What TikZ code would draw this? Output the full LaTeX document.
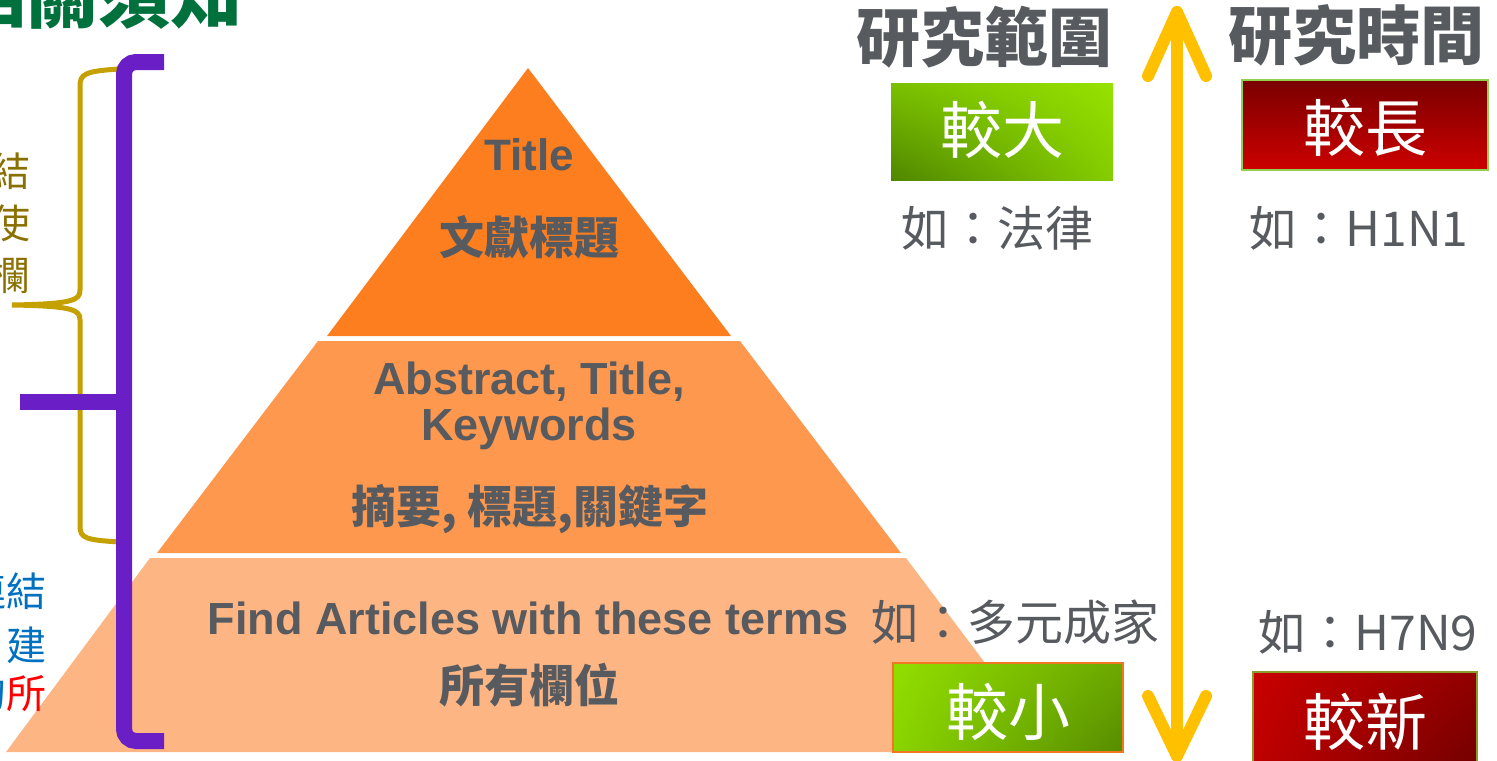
\documentclass[tikz,border=0pt]{standalone}
\usepackage{fontspec}
\setmainfont{Liberation Sans}
\newfontfamily\cjk{Noto Sans CJK TC}
\usetikzlibrary{shadings}
\definecolor{txtgray}{HTML}{575A5F}
\definecolor{lay1}{HTML}{FD7E1E}
\definecolor{lay2}{HTML}{FE984E}
\definecolor{lay3}{HTML}{FDB584}
\definecolor{pur}{HTML}{6A1EC6}
\definecolor{oliv}{HTML}{C4A000}
\definecolor{olivtxt}{HTML}{8A7000}
\definecolor{bluetxt}{HTML}{0070C0}
\definecolor{redtxt}{HTML}{FF0000}
\definecolor{ttlgreen}{HTML}{00703C}
\definecolor{yel}{HTML}{FFC000}
\definecolor{gA}{HTML}{4F8700}
\definecolor{gB}{HTML}{7BC000}
\definecolor{gC}{HTML}{85CC00}
\definecolor{gD}{HTML}{96E200}
\definecolor{gE}{HTML}{92DE00}
\definecolor{gF}{HTML}{8AD400}
\definecolor{gG}{HTML}{6CA800}
\definecolor{gH}{HTML}{568C00}
\definecolor{rA}{HTML}{7A0000}
\definecolor{rB}{HTML}{CC0000}
\definecolor{rC}{HTML}{C80000}
\definecolor{rD}{HTML}{BE0000}
\definecolor{rE}{HTML}{920000}
\definecolor{rF}{HTML}{720000}
\definecolor{bordgreen}{HTML}{92D050}
\definecolor{bordorange}{HTML}{F07820}
\definecolor{bordolive}{HTML}{8C9A2C}
\begin{document}
\begin{tikzpicture}[x=0.5pt,y=-0.5pt,
  lbl/.style={inner sep=0pt, anchor=base},
  enb/.style={lbl, font=\fontsize{22.5}{26}\selectfont\bfseries, text=txtgray},
  cjb/.style={lbl, font=\cjk\fontsize{22.5}{26}\selectfont\bfseries, text=txtgray},
  head/.style={lbl, font=\cjk\fontsize{32}{36}\selectfont\bfseries, text=txtgray},
  boxlbl/.style={lbl, font=\cjk\fontsize{31}{36}\selectfont, text=white},
  eg/.style={lbl, font=\cjk\fontsize{24}{28}\selectfont, text=txtgray},
  side/.style={inner sep=0pt, anchor=base east, font=\cjk\fontsize{20}{24}\selectfont},
  boxshape/.style={inner sep=0pt, line width=0.8pt},
  yarrow/.style={draw=yel, line width=6pt, line cap=round, line join=round},
  pbr/.style={draw=pur, line width=8pt, rounded corners=6pt},
  obr/.style={draw=oliv, line width=2.5pt}
]
\useasboundingbox (0,0) rectangle (1497,760);
\clip (0,0) rectangle (1497,760);

% pyramid layers
\fill[lay1] (528,68) -- (327,336) -- (731,336) -- cycle;
\fill[lay2] (318,341) -- (740,341) -- (901,553) -- (157,553) -- cycle;
\fill[lay3] (150,558) -- (906,558) -- (1052,752) -- (6,752) -- cycle;

% olive brace
\draw[obr] (120,69) .. controls (85,71) and (80,74) .. (80,86) -- (80,290)
  .. controls (80,300) and (74,304) .. (12,305)
  .. controls (74,306) and (80,310) .. (80,320) -- (80,526)
  .. controls (80,538) and (85,540) .. (120,542);

% purple bracket
\coordinate (p1) at (164,62);
\coordinate (p2) at (124,62);
\coordinate (p3) at (124,741);
\coordinate (p4) at (164,741);
\coordinate (p5) at (20,402);
\coordinate (p6) at (124,402);
\draw[pbr] (p1) -- (p2) -- (p3) -- (p4);
\draw[draw=pur, line width=8pt] (p5) -- (p6);

% pyramid texts
\node[enb, font=\fontsize{22}{26}\selectfont\bfseries] (t1) at (529,170) {Title};
\node[cjb] (t2) at (529,254) {文獻標題};
\node[enb] (m1) at (529,394) {Abstract, Title,};
\node[enb] (m2) at (529,440) {Keywords};
\node[cjb] (m3) at (530,523) {摘要, 標題,關鍵字};
\node[enb] (b1) at (528,634) {Find Articles with these terms};
\node[cjb] (b2) at (529,702) {所有欄位};

% top-left title fragment
\node[inner sep=0pt, anchor=base east, font=\cjk\fontsize{36}{40}\selectfont\bfseries, text=ttlgreen] (ttl) at (243,22) {相關須知};

% left side texts
\node[side, text=olivtxt] (s1) at (31,186) {結};
\node[side, text=olivtxt] (s2) at (31,238) {使};
\node[side, text=olivtxt] (s3) at (31,290) {欄};
\node[side, text=bluetxt] (s4) at (47,606) {連結};
\node[side, text=bluetxt] (s5) at (47,660) {建};
\node[side] (s6) at (47,708) {\textcolor{bluetxt}{的}\textcolor{redtxt}{所}};

% right column headers
\node[head] (h1) at (984,61) {研究範圍};
\node[head] (h2) at (1356,59) {研究時間};

% yellow double arrow
\coordinate (atop) at (1177,12);
\coordinate (abot) at (1177,756);
\coordinate (al1) at (1148,76);
\coordinate (ar1) at (1206,76);
\coordinate (al2) at (1148,696);
\coordinate (ar2) at (1206,696);
\draw[yarrow] (atop) -- (abot);
\draw[yarrow] (al1) -- (atop) -- (ar1);
\draw[yarrow] (al2) -- (abot) -- (ar2);

% boxes
\node[boxshape, shade, lower left=gA, upper left=gB, lower right=gC, upper right=gD,
  minimum width=111pt, minimum height=48.5pt] (big) at (1002,131.5) {};
\node[boxlbl] (bigt) at (1002,153) {較大};
\node[boxshape, shade, top color=rA, bottom color=rB, draw=bordgreen,
  minimum width=123pt, minimum height=45pt] (long) at (1365,125) {};
\node[boxlbl] (longt) at (1365,151) {較長};
\node[boxshape, shade, upper left=gE, lower left=gF, upper right=gG, lower right=gH, draw=bordorange,
  minimum width=115pt, minimum height=44.5pt] (small) at (1008,707.5) {};
\node[boxlbl] (smallt) at (1008,735) {較小};
\node[boxshape, shade, upper left=rC, lower left=rD, upper right=rE, lower right=rF, draw=bordolive,
  minimum width=112pt, minimum height=48pt] (new) at (1365,720) {};
\node[boxlbl] (newt) at (1365,745) {較新};

% examples
\node[eg] (e1) at (997,246) {如：法律};
\node[eg] (e2) at (1359,246) {如：H1N1};
\node[eg] (e3) at (1015,640) {如：多元成家};
\node[eg] (e4) at (1368,650) {如：H7N9};
\end{tikzpicture}
\end{document}
